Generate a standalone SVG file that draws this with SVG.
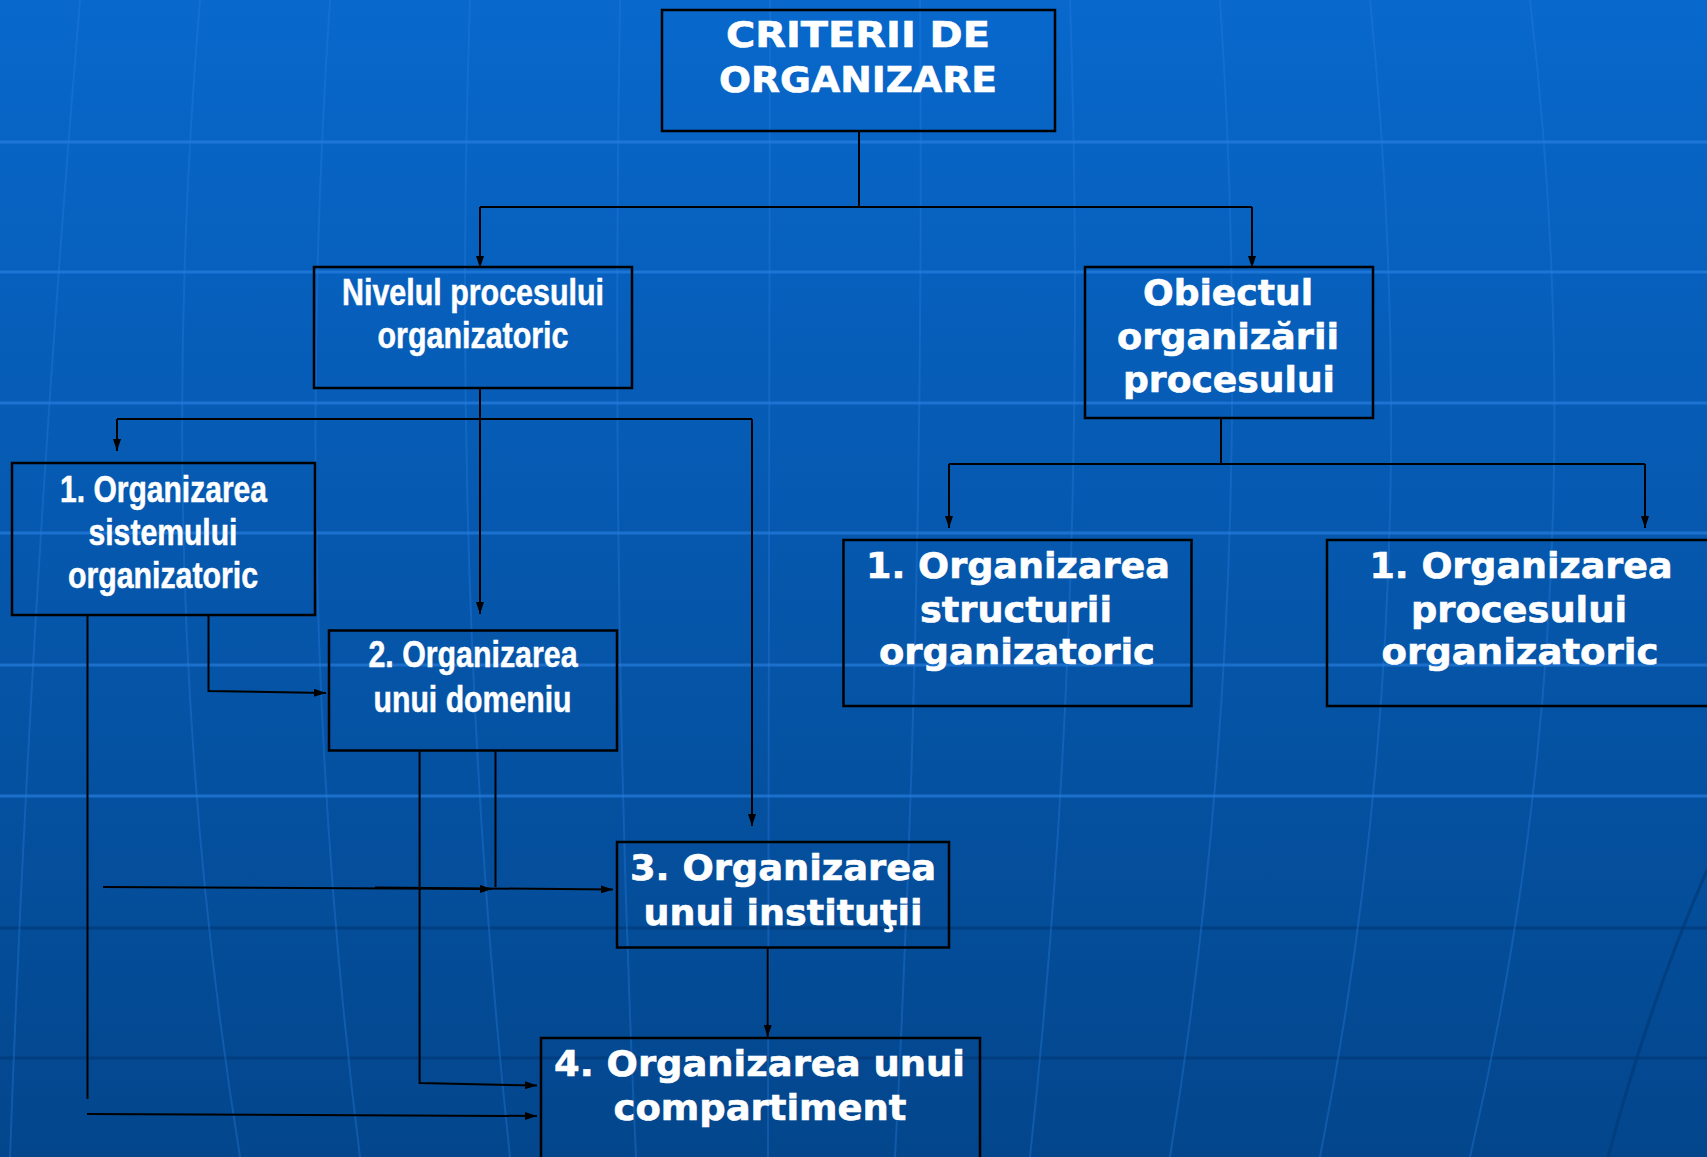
<svg xmlns="http://www.w3.org/2000/svg" width="1707" height="1157" viewBox="0 0 1707 1157">
<defs>
<linearGradient id="bg" x1="0" y1="0" x2="0" y2="1">
<stop offset="0" stop-color="#0868CC"/>
<stop offset="1" stop-color="#03468C"/>
</linearGradient>
<marker id="ah" markerWidth="12" markerHeight="8" refX="12" refY="4" orient="auto" markerUnits="userSpaceOnUse">
<path d="M0,0 L12,4 L0,8 z" fill="#000"/>
</marker>
<style>
.box{fill:none;stroke:#000;stroke-width:2.5}
.c path{fill:none;stroke:#000;stroke-width:2}
.c path.a{marker-end:url(#ah)}
.n{font-family:"Liberation Sans Narrow","Arial Narrow","Liberation Sans",Arial,sans-serif;font-weight:bold;font-size:36px;fill:#fff;stroke:#fff;stroke-width:0.5;text-anchor:middle}
.w{font-family:"DejaVu Sans",Verdana,sans-serif;font-weight:bold;font-size:36px;fill:#fff;stroke:#fff;stroke-width:0.6;text-anchor:middle}
.hl{stroke:#2C83E6;stroke-width:3;opacity:0.6}
.dl{stroke:#023A78;stroke-width:3;opacity:0.7}
.mer{fill:none;stroke:#2A7FE0;stroke-width:2;opacity:0.35}
</style>
</defs>
<g id="background">
<rect x="0" y="0" width="1707" height="1157" fill="url(#bg)"/>
<line class="hl" x1="0" y1="142" x2="1707" y2="142"/>
<line class="hl" x1="0" y1="272" x2="1707" y2="272"/>
<line class="hl" x1="0" y1="403" x2="1707" y2="403"/>
<line class="hl" x1="0" y1="533" x2="1707" y2="533"/>
<line class="hl" x1="0" y1="665" x2="1707" y2="665"/>
<line class="hl" x1="0" y1="796" x2="1707" y2="796"/>
<line class="dl" x1="0" y1="928" x2="1707" y2="928"/>
<line class="dl" x1="0" y1="1058" x2="1707" y2="1058"/>
<path class="mer" d="M80,0 Q30,600 10,1157"/>
<path class="mer" d="M200,0 Q150,600 240,1157"/>
<path class="mer" d="M330,0 Q290,600 360,1157"/>
<path class="mer" d="M470,0 Q450,600 510,1157"/>
<path class="mer" d="M620,0 Q610,600 636,1157"/>
<path class="mer" d="M770,0 Q768,600 768,1157"/>
<path class="mer" d="M920,0 Q925,600 895,1157"/>
<path class="mer" d="M1070,0 Q1090,600 1030,1157"/>
<path class="mer" d="M1220,0 Q1260,600 1170,1157"/>
<path class="mer" d="M1370,0 Q1430,600 1320,1157"/>
<path class="mer" d="M1530,0 Q1600,600 1470,1157"/>
<path d="M1707,870 Q1650,1000 1608,1157" fill="none" stroke="#023A78" stroke-width="3" opacity="0.7"/>
</g>
<g id="connectors" class="c">
<path d="M859,131 V207"/>
<path d="M480,207 H1252"/>
<path class="a" d="M480,207 V268"/>
<path class="a" d="M1252,207 V268"/>
<path class="a" d="M480,388 V614"/>
<path d="M117,419 H752"/>
<path class="a" d="M117,419 V451"/>
<path class="a" d="M752,419 V826"/>
<path class="a" d="M208.5,615 V691 L326,693"/>
<path d="M87.5,615 V1099"/>
<path class="a" d="M87,1114 L537,1116"/>
<path class="a" d="M419.6,750 V1083 L537,1085.5"/>
<path d="M495.5,750 V887"/>
<path class="a" d="M103,887 L492,889"/>
<path class="a" d="M375,887.5 L613,889.5"/>
<path class="a" d="M767.7,947 V1037"/>
<path d="M1221,418 V464"/>
<path d="M949,464 H1645"/>
<path class="a" d="M949,464 V528"/>
<path class="a" d="M1645,464 V528"/>
</g>
<g id="n0">
<rect class="box" x="662" y="10" width="393" height="121"/>
<text class="w" x="858" y="47" textLength="264" lengthAdjust="spacingAndGlyphs">CRITERII DE</text>
<text class="w" x="858" y="92" textLength="278" lengthAdjust="spacingAndGlyphs">ORGANIZARE</text>
</g>
<g id="n1">
<rect class="box" x="314" y="267" width="318" height="121"/>
<text class="n" x="473" y="305" textLength="262" lengthAdjust="spacingAndGlyphs">Nivelul procesului</text>
<text class="n" x="473" y="348" textLength="191" lengthAdjust="spacingAndGlyphs">organizatoric</text>
</g>
<g id="n2">
<rect class="box" x="1085" y="267" width="288" height="151"/>
<text class="w" x="1228" y="305" textLength="170" lengthAdjust="spacingAndGlyphs">Obiectul</text>
<text class="w" x="1228" y="349" textLength="222" lengthAdjust="spacingAndGlyphs">organizării</text>
<text class="w" x="1229" y="392" textLength="212" lengthAdjust="spacingAndGlyphs">procesului</text>
</g>
<g id="n3">
<rect class="box" x="12" y="463" width="303" height="152"/>
<text class="n" x="163.5" y="502" textLength="207" lengthAdjust="spacingAndGlyphs">1. Organizarea</text>
<text class="n" x="163" y="545" textLength="149" lengthAdjust="spacingAndGlyphs">sistemului</text>
<text class="n" x="163" y="588" textLength="190" lengthAdjust="spacingAndGlyphs">organizatoric</text>
</g>
<g id="n4">
<rect class="box" x="329" y="630.5" width="288" height="120"/>
<text class="n" x="473" y="667" textLength="209" lengthAdjust="spacingAndGlyphs">2. Organizarea</text>
<text class="n" x="472.5" y="712" textLength="198" lengthAdjust="spacingAndGlyphs">unui domeniu</text>
</g>
<g id="n5">
<rect class="box" x="843.5" y="540" width="348" height="166"/>
<text class="w" x="1018" y="578" textLength="304" lengthAdjust="spacingAndGlyphs">1. Organizarea</text>
<text class="w" x="1016" y="622" textLength="192" lengthAdjust="spacingAndGlyphs">structurii</text>
<text class="w" x="1017" y="664" textLength="276" lengthAdjust="spacingAndGlyphs">organizatoric</text>
</g>
<g id="n6">
<rect class="box" x="1327" y="540" width="386" height="166"/>
<text class="w" x="1521" y="578" textLength="303" lengthAdjust="spacingAndGlyphs">1. Organizarea</text>
<text class="w" x="1519" y="622" textLength="216" lengthAdjust="spacingAndGlyphs">procesului</text>
<text class="w" x="1520" y="664" textLength="277" lengthAdjust="spacingAndGlyphs">organizatoric</text>
</g>
<g id="n7">
<rect class="box" x="617" y="842" width="332" height="105.5"/>
<text class="w" x="783" y="880" textLength="306" lengthAdjust="spacingAndGlyphs">3. Organizarea</text>
<text class="w" x="783" y="925" textLength="279" lengthAdjust="spacingAndGlyphs">unui instituţii</text>
</g>
<g id="n8">
<rect class="box" x="541" y="1038" width="439" height="160"/>
<text class="w" x="759.5" y="1076" textLength="411" lengthAdjust="spacingAndGlyphs">4. Organizarea unui</text>
<text class="w" x="760" y="1120" textLength="293" lengthAdjust="spacingAndGlyphs">compartiment</text>
</g>
</svg>
